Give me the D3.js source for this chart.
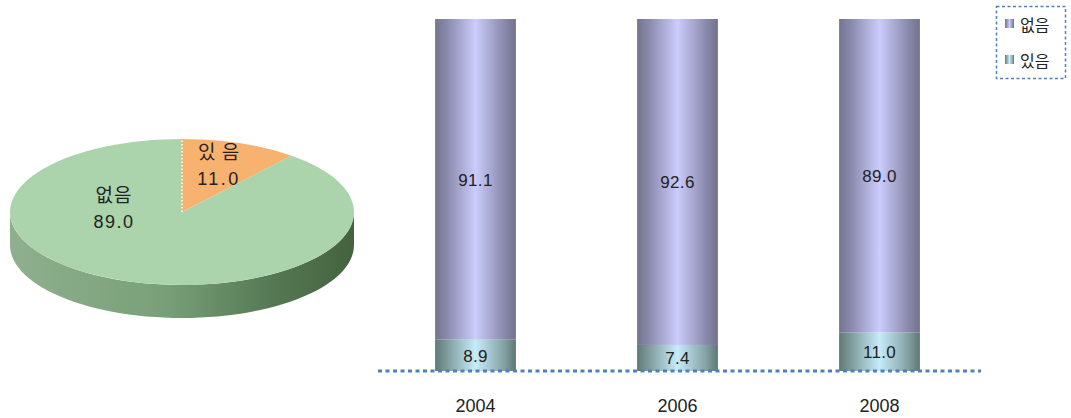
<!DOCTYPE html>
<html><head><meta charset="utf-8">
<script src="https://cdn.jsdelivr.net/npm/d3@7"></script>
<style>body{margin:0;background:#fff;}svg{display:block;}</style>
</head><body>
<svg id="c" width="1071" height="418"></svg>
<script>
// ---- data ----
const pieLabels = ["있 음", "없음"];
const pieValues = [11.0, 89.0];
const years = ["2004", "2006", "2008"];
const series = ["있음", "없음"];
const yesValues = [8.9, 7.4, 11.0];
const noValues = [91.1, 92.6, 89.0];

const svg = d3.select("#c");
const defs = svg.append("defs");
const KR = "'Noto Sans CJK KR', 'Noto Sans', sans-serif";
const LAT = "'Liberation Sans', Arial, sans-serif";

function hGrad(id, stops) {
  const g = defs.append("linearGradient").attr("id", id).attr("x1", "0%").attr("x2", "100%").attr("y1", "0%").attr("y2", "0%");
  stops.forEach(s => g.append("stop").attr("offset", s[0]).attr("stop-color", s[1]));
}
hGrad("gNo", [["0%", "#74748f"], ["15%", "#8a8aad"], ["50%", "#ccccfd"], ["85%", "#8a8aad"], ["100%", "#72728c"]]);
hGrad("gYes", [["0%", "#5e7a76"], ["15%", "#7f9c9c"], ["50%", "#c6ecfa"], ["85%", "#84a2a4"], ["100%", "#5d7773"]]);
hGrad("gSide", [["0%", "#8fb08e"], ["45%", "#78a078"], ["75%", "#567a55"], ["100%", "#45623f"]]);

// ---- pie ----
const cx = 182, cy = 212, rx = 172, ry = 73, depth = 33;
const k = ry / rx;
// side band (front half)
const pts = [];
for (let i = 0; i <= 60; i++) {
  const a = Math.PI / 2 + Math.PI * i / 60;
  pts.push([cx + rx * Math.sin(a), cy - ry * Math.cos(a)]);
}
const back = pts.slice().reverse().map(p => [p[0], p[1] + depth]);
svg.append("path")
  .attr("d", d3.line()(pts.concat(back)) + "Z")
  .attr("fill", "url(#gSide)");

const pie = d3.pie().sort(null).startAngle(0).endAngle(2 * Math.PI);
const arcs = pie(pieValues);
const arc = d3.arc().innerRadius(0).outerRadius(rx);
const pieColors = ["#f7b26f", "#abd4ad"];
const pg = svg.append("g").attr("transform", `translate(${cx},${cy}) scale(1,${k})`);
pg.selectAll("path").data(arcs).join("path")
  .attr("d", arc)
  .attr("fill", (d, i) => pieColors[i]);
// white dotted radial edge on small slice
pg.append("line").attr("x1", 0).attr("y1", 0).attr("x2", 0).attr("y2", -rx)
  .attr("stroke", "#fff").attr("stroke-width", 1.5).attr("stroke-dasharray", "1.5,2")
  .attr("vector-effect", "non-scaling-stroke");

const pieLabelPos = [[cx + 37, cy - 53], [cx - 68, cy - 10]];
arcs.forEach((d, i) => {
  const t = svg.append("text").attr("text-anchor", "middle").attr("fill", "#222");
  t.append("tspan").attr("x", pieLabelPos[i][0]).attr("y", pieLabelPos[i][1])
    .attr("font-family", KR).attr("font-size", 19).attr("letter-spacing", 1).text(pieLabels[i]);
  t.append("tspan").attr("x", pieLabelPos[i][0]).attr("y", pieLabelPos[i][1] + 26)
    .attr("font-family", LAT).attr("font-size", 18).attr("letter-spacing", i === 0 ? 2.5 : 1.5).text(pieValues[i].toFixed(1));
});

// ---- stacked bars ----
const x = d3.scaleBand().domain(years).range([374.5, 980.5]).paddingInner(0.6).paddingOuter(0.3);
const y = d3.scaleLinear().domain([0, 100]).range([371, 19]);
const rows = years.map((yr, i) => ({ year: yr, "있음": yesValues[i], "없음": noValues[i] }));
const stacked = d3.stack().keys(series)(rows);
const fills = { "있음": "url(#gYes)", "없음": "url(#gNo)" };

stacked.forEach(s => {
  const g = svg.append("g");
  g.selectAll("rect").data(s).join("rect")
    .attr("x", d => x(d.data.year))
    .attr("width", x.bandwidth())
    .attr("y", d => y(d[1]))
    .attr("height", d => y(d[0]) - y(d[1]))
    .attr("fill", fills[s.key]);
  g.selectAll("text").data(s).join("text")
    .attr("x", d => x(d.data.year) + x.bandwidth() / 2)
    .attr("y", d => (y(d[0]) + y(d[1])) / 2 + 6.5)
    .attr("text-anchor", "middle")
    .attr("font-family", LAT).attr("font-size", 17).attr("letter-spacing", 0.3).attr("fill", "#222")
    .text(d => (d[1] - d[0]).toFixed(1));
});

// baseline
svg.append("line").attr("x1", 378).attr("x2", 981).attr("y1", y(0)).attr("y2", y(0))
  .attr("stroke", "#4f81bd").attr("stroke-width", 3).attr("stroke-dasharray", "4,3.5");

// x axis labels
svg.selectAll(".yr").data(years).join("text")
  .attr("x", d => x(d) + x.bandwidth() / 2)
  .attr("y", 412)
  .attr("text-anchor", "middle")
  .attr("font-family", LAT).attr("font-size", 18).attr("fill", "#222")
  .text(d => d);

// ---- legend ----
svg.append("rect").attr("x", 996.5).attr("y", 6.5).attr("width", 69).attr("height", 72)
  .attr("fill", "#fff").attr("stroke", "#4f81bd").attr("stroke-width", 1.5).attr("stroke-dasharray", "3,2.5");
const legendKeys = ["없음", "있음"];
legendKeys.forEach((key, i) => {
  const yy = 19 + i * 36;
  svg.append("rect").attr("x", 1005).attr("y", yy).attr("width", 9).attr("height", 9).attr("fill", fills[key]);
  svg.append("text").attr("x", 1020).attr("y", yy + 12)
    .attr("font-family", KR).attr("font-size", 16).attr("fill", "#222").text(key);
});
</script>
</body></html>
